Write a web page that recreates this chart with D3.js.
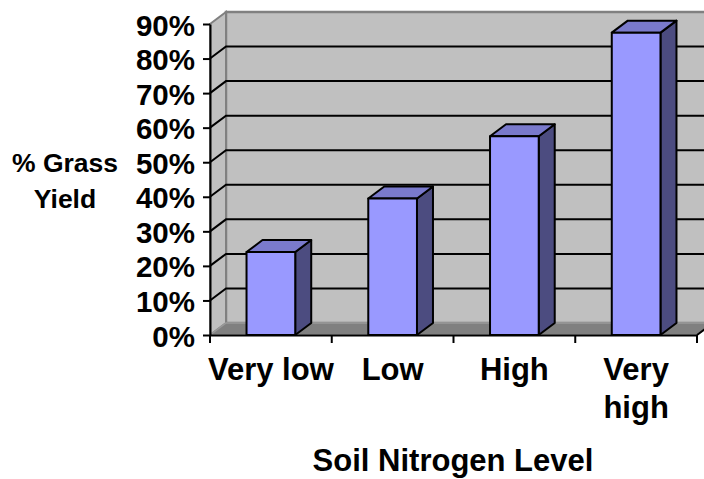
<html>
<head>
	<title>grass yield</title>
	<style>
		body {
			margin:0;
			padding:0;
			background:#ffffff;
		}
		svg text {
			font-family: "Liberation Sans", Arial, sans-serif;
			font-weight: bold;
			fill: #000;
		}
	</style>
</head>
<body>

	<svg width="704" height="479"></svg>

	<script src="https://d3js.org/d3.v7.min.js"></script>
	<script>

		// data
		var categories = ["Very low", "Low", "High", "Very\nhigh"];
		var yieldPct = [24, 39.5, 57.5, 87.5];
		var yTicks = [0, 10, 20, 30, 40, 50, 60, 70, 80, 90];
		var yTitle = ["% Grass", "Yield"];
		var xTitle = "Soil Nitrogen Level";

		var svg = d3.select("svg");

		// depth of the 3d box
		var dx = 16, dy = -12;

		var x = d3.scaleBand().domain(categories).range([210, 697]);
		var y = d3.scaleLinear().domain([0, 90]).range([335, 24]);

		var xLeft = x.range()[0], xRight = x.range()[1];
		var yBottom = y(0), yTop = y(90);

		// back wall
		svg.append("rect")
			.attr("x", xLeft + dx)
			.attr("y", yTop + dy)
			.attr("width", xRight - xLeft + 40)
			.attr("height", yBottom - yTop)
			.style("fill", "#c0c0c0")
			.style("stroke", "#808080")
			.style("stroke-width", 2.5);

		// side wall
		svg.append("polygon")
			.attr("points", [[xLeft, yTop], [xLeft + dx, yTop + dy], [xLeft + dx, yBottom + dy], [xLeft, yBottom]].join(" "))
			.style("fill", "#c0c0c0")
			.style("stroke", "#808080")
			.style("stroke-width", 2);

		// floor
		svg.append("polygon")
			.attr("points", [[xLeft, yBottom], [xLeft + dx, yBottom + dy], [xRight + dx, yBottom + dy], [xRight, yBottom]].join(" "))
			.style("fill", "#808080")
			.style("stroke", "#9a9a9a")
			.style("stroke-width", 1.5);

		svg.append("line")
			.attr("x1", xRight).attr("y1", yBottom)
			.attr("x2", xRight + dx).attr("y2", yBottom + dy)
			.style("stroke", "#000").style("stroke-width", 2);

		// gridlines on back wall and side wall
		var grid = yTicks.filter(function(d) { return d > 0 && d < 90; });

		svg.selectAll(".grid")
			.data(grid)
			.enter()
			.append("polyline")
			.attr("class", "grid")
			.attr("points", function(d) {
				return [[xLeft, y(d)], [xLeft + dx, y(d) + dy], [xRight + 40, y(d) + dy]].join(" ");
			})
			.style("fill", "none")
			.style("stroke", "#000")
			.style("stroke-width", 2);

		// bars
		var barW = x.bandwidth() * 0.4;

		var bars = svg.selectAll(".bar")
			.data(categories)
			.enter()
			.append("g")
			.attr("class", "bar");

		bars.each(function(c, i) {
			var g = d3.select(this);
			var xl = x(c) + (x.bandwidth() - barW) / 2;
			var xr = xl + barW;
			var yt = y(yieldPct[i]);

			g.append("polygon")
				.attr("points", [[xr, yt], [xr + dx, yt + dy], [xr + dx, yBottom + dy], [xr, yBottom]].join(" "))
				.style("fill", "#4c4c80");

			g.append("polygon")
				.attr("points", [[xl, yt], [xl + dx, yt + dy], [xr + dx, yt + dy], [xr, yt]].join(" "))
				.style("fill", "#7a7acc");

			g.append("rect")
				.attr("x", xl)
				.attr("y", yt)
				.attr("width", barW)
				.attr("height", yBottom - yt)
				.style("fill", "#9999ff");

			g.selectAll("*")
				.style("stroke", "#000")
				.style("stroke-width", 2)
				.style("stroke-linejoin", "round");
		});

		// y axis
		var yAxis = d3.axisLeft(y)
			.tickValues(yTicks)
			.tickFormat(function(d) { return d + "%"; })
			.tickSize(7)
			.tickSizeOuter(0)
			.tickPadding(8);

		var gy = svg.append("g")
			.attr("transform", "translate(" + xLeft + ",0)")
			.call(yAxis);

		gy.selectAll("path, line").style("stroke", "#000").style("stroke-width", 2);
		gy.selectAll("text")
			.attr("dy", null)
			.attr("y", 11)
			.style("font-size", "29.5px")
			.style("font-family", "'Liberation Sans', Arial, sans-serif");

		// x axis
		var xAxis = d3.axisBottom(x)
			.tickSize(0)
			.tickSizeOuter(0)
			.tickFormat("");

		var gx = svg.append("g")
			.attr("transform", "translate(0," + yBottom + ")")
			.call(xAxis);

		gx.select(".domain").style("stroke", "#000").style("stroke-width", 2);

		var edges = categories.map(function(c) { return x(c); }).concat([xRight]);

		gx.selectAll(".edge")
			.data(edges)
			.enter()
			.append("line")
			.attr("class", "edge")
			.attr("x1", function(d) { return d; })
			.attr("x2", function(d) { return d; })
			.attr("y1", 0)
			.attr("y2", 8)
			.style("stroke", "#000")
			.style("stroke-width", 2);

		gx.selectAll(".cat")
			.data(categories)
			.enter()
			.append("text")
			.attr("class", "cat")
			.attr("text-anchor", "middle")
			.style("font-size", "31px")
			.each(function(c) {
				var t = d3.select(this);
				c.split("\n").forEach(function(line, j) {
					t.append("tspan")
						.attr("x", x(c) + x.bandwidth() / 2)
						.attr("y", 45 + j * 38)
						.text(line);
				});
			});

		// titles
		svg.append("text")
			.attr("x", 453)
			.attr("y", 471)
			.attr("text-anchor", "middle")
			.style("font-size", "31px")
			.text(xTitle);

		svg.selectAll(".ytitle")
			.data(yTitle)
			.enter()
			.append("text")
			.attr("class", "ytitle")
			.attr("x", 65)
			.attr("y", function(d, i) { return 172 + i * 36; })
			.attr("text-anchor", "middle")
			.style("font-size", "26.5px")
			.text(function(d) { return d; });

	</script>

</body>
</html>
